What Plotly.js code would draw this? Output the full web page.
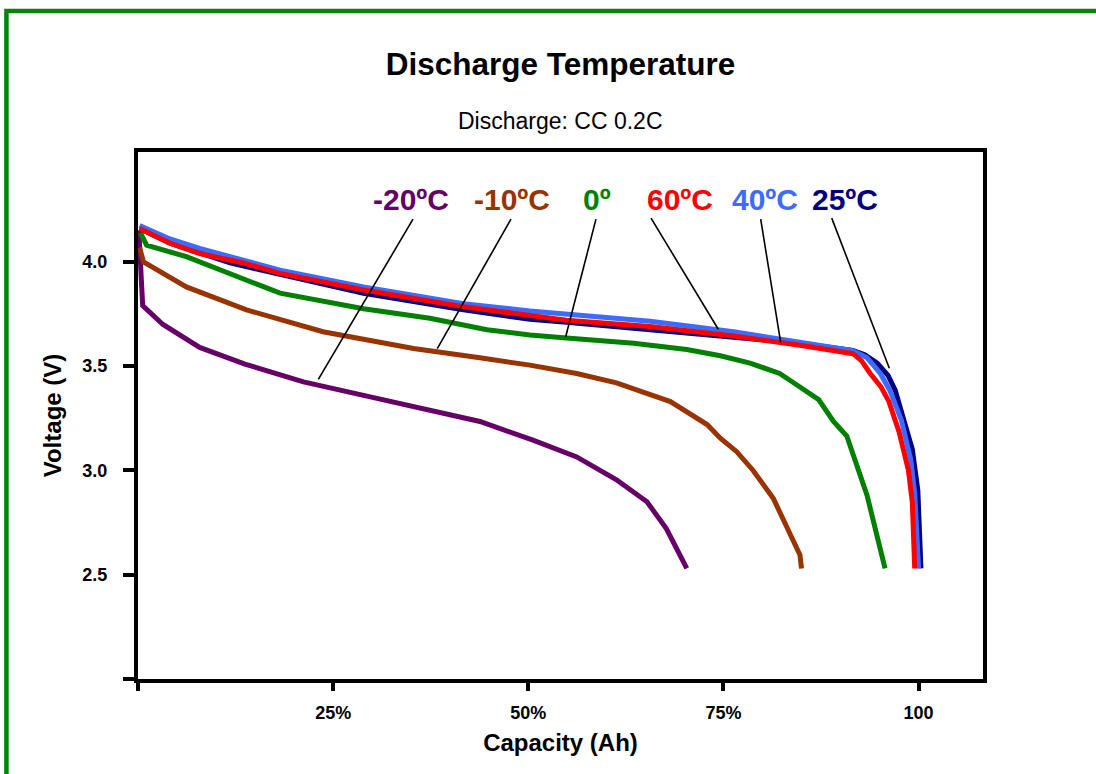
<!DOCTYPE html>
<html>
<head>
<meta charset="utf-8">
<script src="https://cdn.plot.ly/plotly-3.0.1.min.js"></script>
<style>
  html, body { margin: 0; padding: 0; background: #ffffff; }
  #chart { width: 1096px; height: 774px; }
</style>
</head>
<body>
<div id="chart"></div>
<script>
// ---- data (capacity %, voltage V) ----
const seriesNames = ['-20ºC', '-10ºC', '0º', '25ºC', '40ºC', '60ºC'];
const seriesColors = ['#660066', '#993300', '#008000', '#000080', '#3d6bff', '#ff0000'];

const m20X = [0.1, 0.6, 3.2, 7.9, 13.7, 21.2, 28.9, 37.4, 43.8, 50.6, 56.2, 61.3, 65.2, 67.7, 70.3];
const m20V = [4.15, 3.79, 3.70, 3.59, 3.51, 3.425, 3.36, 3.29, 3.235, 3.145, 3.065, 2.955, 2.85, 2.72, 2.53];

const m10X = [0.2, 0.7, 6.2, 13.9, 23.7, 35.3, 43.8, 50.2, 56.2, 61.3, 68.2, 72.9, 74.6, 76.7, 78.8, 81.4, 83.1, 84.8, 85.0];
const m10V = [4.07, 4.00, 3.88, 3.77, 3.665, 3.585, 3.54, 3.505, 3.465, 3.42, 3.33, 3.22, 3.155, 3.09, 3.00, 2.865, 2.73, 2.595, 2.53];

const t0X = [0.3, 1.1, 6.2, 13.5, 18.2, 28.9, 37.4, 44.7, 50.2, 54.9, 63.5, 70.3, 74.6, 78.4, 82.2, 84.8, 87.2, 89.1, 90.8, 93.4, 95.7];
const t0V = [4.14, 4.08, 4.025, 3.915, 3.85, 3.775, 3.73, 3.675, 3.65, 3.635, 3.61, 3.58, 3.55, 3.515, 3.465, 3.40, 3.34, 3.235, 3.165, 2.88, 2.53];

const t25X = [0.2, 4.1, 11.8, 28.9, 41.7, 50.2, 54.9, 65.6, 76.3, 84.8, 91.6, 93.1, 94.7, 96.1, 97.0, 97.9, 99.2, 99.9, 100.3];
const t25V = [4.16, 4.09, 3.995, 3.85, 3.77, 3.725, 3.71, 3.675, 3.64, 3.61, 3.575, 3.555, 3.515, 3.455, 3.385, 3.275, 3.10, 2.905, 2.53];

const t40X = [0.2, 4.1, 7.9, 18.2, 28.9, 41.7, 50.2, 65.6, 76.3, 84.8, 91.6, 93.4, 95.1, 96.3, 97.8, 99.0, 99.5, 100.0];
const t40V = [4.175, 4.11, 4.065, 3.96, 3.88, 3.80, 3.765, 3.715, 3.665, 3.615, 3.575, 3.54, 3.465, 3.385, 3.24, 3.05, 2.89, 2.53];

const t60X = [0.2, 4.1, 7.9, 13.5, 18.2, 28.9, 41.7, 50.2, 54.9, 65.6, 76.3, 84.8, 91.6, 92.7, 93.8, 95.2, 96.2, 97.5, 98.7, 99.2, 99.5];
const t60V = [4.16, 4.09, 4.04, 3.995, 3.945, 3.865, 3.785, 3.745, 3.72, 3.69, 3.645, 3.60, 3.56, 3.525, 3.465, 3.40, 3.33, 3.185, 3.00, 2.845, 2.53];

const xTickVals = [0, 25, 50, 75, 100];
const xTickText = ['', '25%', '50%', '75%', '100'];
const yTickVals = [2.0, 2.5, 3.0, 3.5, 4.0];
const yTickText = ['', '2.5', '3.0', '3.5', '4.0'];

// label positions (capacity, voltage) and leader lines
const labelX = [35.0, 47.9, 58.8, 90.6, 80.3, 69.4];
const labelY = 4.297;
const leadFromX = [35.23, 47.78, 58.67, 88.87, 79.77, 65.72];
const leadFromV = [4.205, 4.205, 4.205, 4.21, 4.205, 4.21];
const leadToX = [23.1, 38.34, 54.79, 96.25, 82.33, 74.34];
const leadToV = [3.437, 3.584, 3.641, 3.49, 3.614, 3.677];

const xs = [m20X, m10X, t0X, t25X, t40X, t60X];
const vs = [m20V, m10V, t0V, t25V, t40V, t60V];

const FONT = 'Liberation Sans, Arial, Helvetica, sans-serif';

const traces = seriesNames.map((n, i) => ({
  type: 'scatter', mode: 'lines', name: n,
  x: xs[i], y: vs[i],
  line: { color: seriesColors[i], width: 5 },
  hoverinfo: 'x+y+name'
}));

const annotations = seriesNames.map((n, i) => ({
  xref: 'x', yref: 'y', x: labelX[i], y: labelY,
  text: n, showarrow: false, xanchor: 'center', yanchor: 'middle',
  font: { family: FONT, size: 30, color: seriesColors[i], weight: 'bold' }
}));
annotations.push({
  xref: 'paper', yref: 'paper', x: 0.5, y: 1.0588,
  text: 'Discharge: CC 0.2C', showarrow: false, xanchor: 'center', yanchor: 'middle',
  font: { family: FONT, size: 23, color: '#000000' }
});

const shapes = seriesNames.map((n, i) => ({
  type: 'line', xref: 'x', yref: 'y',
  x0: leadFromX[i], y0: leadFromV[i], x1: leadToX[i], y1: leadToV[i],
  line: { color: '#000000', width: 1.6 }
}));
// green outer frame
shapes.push({
  type: 'rect', xref: 'paper', yref: 'paper',
  x0: -0.1557, x1: 2, y0: -1, y1: 1.2676,
  line: { color: '#068406', width: 4.5 }, fillcolor: 'rgba(0,0,0,0)', layer: 'above'
});

const layout = {
  width: 1096, height: 774,
  margin: { l: 138, r: 113, t: 152, b: 95, pad: 0 },
  paper_bgcolor: '#ffffff', plot_bgcolor: '#ffffff',
  showlegend: false,
  font: { family: FONT, color: '#000000' },
  title: {
    text: 'Discharge Temperature',
    x: 0.5, xref: 'paper', xanchor: 'center',
    y: 1 - 64 / 774, yref: 'container', yanchor: 'middle',
    font: { family: FONT, size: 31.5, color: '#000000', weight: 'bold' }
  },
  xaxis: {
    range: [0, 108.25], tickvals: xTickVals, ticktext: xTickText,
    showline: true, linecolor: '#000000', linewidth: 4, mirror: true,
    ticks: 'outside', ticklen: 8, tickwidth: 4, tickcolor: '#000000',
    showgrid: false, zeroline: false,
    tickfont: { family: FONT, size: 18, color: '#000000', weight: 'bold' },
    ticklabelstandoff: 6,
    title: { text: 'Capacity (Ah)', standoff: 14,
      font: { family: FONT, size: 24, color: '#000000', weight: 'bold' } }
  },
  yaxis: {
    range: [2.0, 4.527], tickvals: yTickVals, ticktext: yTickText,
    showline: true, linecolor: '#000000', linewidth: 4, mirror: true,
    ticks: 'outside', ticklen: 11, tickwidth: 4, tickcolor: '#000000',
    showgrid: false, zeroline: false,
    tickfont: { family: FONT, size: 18, color: '#000000', weight: 'bold' },
    ticklabelstandoff: 12,
    title: { text: 'Voltage (V)', standoff: 15,
      font: { family: FONT, size: 24, color: '#000000', weight: 'bold' } }
  },
  annotations: annotations,
  shapes: shapes
};

Plotly.newPlot('chart', traces, layout, { displayModeBar: false, staticPlot: false });
</script>
</body>
</html>
